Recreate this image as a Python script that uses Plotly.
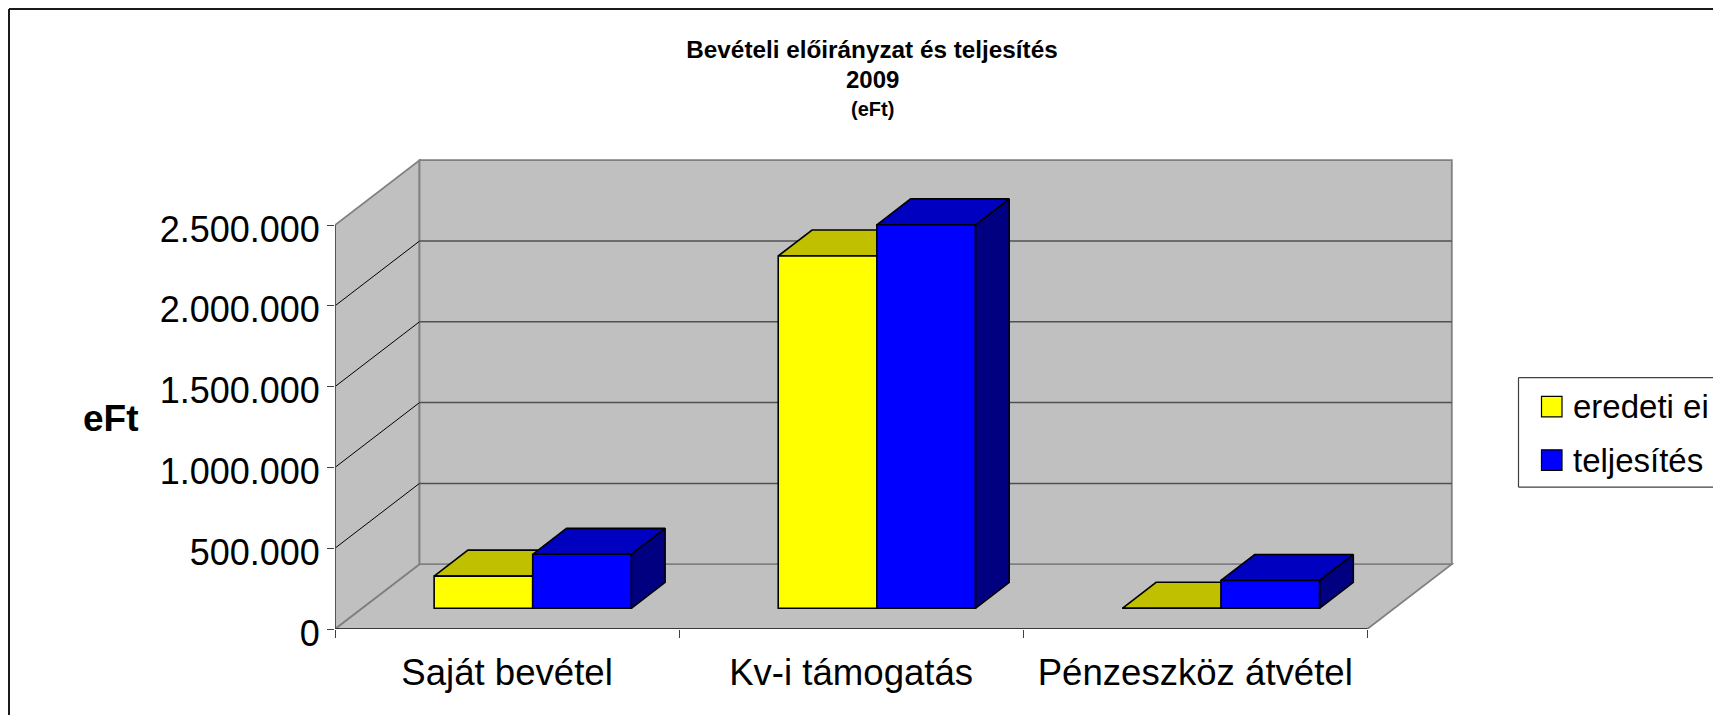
import plotly.graph_objects as go

# ---- data ----
categories = ["Saját bevétel", "Kv-i támogatás", "Pénzeszköz átvétel"]
series_names = ["eredeti ei", "teljesítés"]
eredeti_ei = [199000, 2180000, 0]
teljesites = [334000, 2373000, 172000]
y_ticks = [0, 500000, 1000000, 1500000, 2000000, 2500000]
y_tick_labels = ["0", "500.000", "1.000.000", "1.500.000", "2.000.000", "2.500.000"]
title_lines = ["Bevételi előirányzat és teljesítés", "2009", "(eFt)"]
axis_title = "eFt"

# ---- styling / projection ----
W, H = 1713, 715
FONT = "Liberation Sans, Arial, sans-serif"
PL, PR, PT, PB = 335.0, 1462.0, 150.0, 628.8          # plot area in px
PX_PER_CAT = 344.1
PX_PER_UNIT = 403.8 / 2500000
DEPTH_X = 84.5 / PX_PER_CAT                            # oblique depth in x units
DEPTH_Y = 64.8 / PX_PER_UNIT                           # oblique depth in y units
BAR_FRONT, BAR_BACK = 0.32, 0.72
BAR_W = 0.2865
BAR_SHIFT = -0.004
FACE = ["#FFFF00", "#0000FF"]
TOP = ["#C0C000", "#0000C0"]
SIDE = ["#808000", "#000080"]
WALL = "#C0C0C0"
EDGE = "#808080"
x_range = [0, (PR - PL) / PX_PER_CAT]
y_range = [0, (PB - PT) / PX_PER_UNIT]


def proj(x, v, d):
    return x + d * DEPTH_X, v + d * DEPTH_Y


def px(p):
    return (p - PL) / (PR - PL)


def py(p):
    return (PB - p) / (PB - PT)


def poly(points):
    return "M" + " L".join(f"{a},{b}" for a, b in points) + " Z"


n = len(categories)
top_val = y_ticks[-1]
shapes = []
# floor, left wall and back wall
wall_polys = [
    [proj(0, 0, 0), proj(n, 0, 0), proj(n, 0, 1), proj(0, 0, 1)],
    [proj(0, 0, 0), proj(0, top_val, 0), proj(0, top_val, 1), proj(0, 0, 1)],
    [proj(0, 0, 1), proj(n, 0, 1), proj(n, top_val, 1), proj(0, top_val, 1)],
]
for pts in wall_polys:
    shapes.append(dict(type="path", path=poly(pts), xref="x", yref="y", layer="below",
                       fillcolor=WALL, line=dict(color=EDGE, width=1.8)))
# gridlines
for t in y_ticks[1:-1]:
    x0, y0 = proj(0, t, 0)
    x1, y1 = proj(0, t, 1)
    x2, y2 = proj(n, t, 1)
    shapes.append(dict(type="line", xref="x", yref="y", layer="below", x0=x0, y0=y0, x1=x1, y1=y1,
                       line=dict(color="#000000", width=1)))
    shapes.append(dict(type="line", xref="x", yref="y", layer="below", x0=x1, y0=y1, x1=x2, y1=y2,
                       line=dict(color="#505050", width=1.5)))

# outer chart frame (runs off the right and bottom of the picture)
shapes.append(dict(type="line", xref="paper", yref="paper", x0=px(9), x1=px(W + 5), y0=py(9), y1=py(9),
                   line=dict(color="#1a1a1a", width=2)))
shapes.append(dict(type="line", xref="paper", yref="paper", x0=px(9), x1=px(9), y0=py(9), y1=py(H + 5),
                   line=dict(color="#1a1a1a", width=2)))
# legend box, open on the right where the picture cuts it
LX, LT, LB = 1518.5, 377.5, 487.0
for a, b, c, d in [(LX, LT, W + 5, LT), (LX, LB, W + 5, LB), (LX, LT, LX, LB)]:
    shapes.append(dict(type="line", xref="paper", yref="paper", x0=px(a), x1=px(c), y0=py(b), y1=py(d),
                       line=dict(color="#404040", width=1.2)))
legend_rows = [406.5, 460.0]
for yc, col in zip(legend_rows, FACE):
    shapes.append(dict(type="rect", xref="paper", yref="paper", x0=px(1541.5), x1=px(1562), y0=py(yc - 10.3),
                       y1=py(yc + 10.3), fillcolor=col, line=dict(color="#000000", width=1.2)))

fig = go.Figure()

# top and side faces on the primary axes (behind the front faces)
values = [eredeti_ei, teljesites]
for s, vals in enumerate(values):
    for i, v in enumerate(vals):
        left = i + 0.5 + BAR_SHIFT + (s - 1) * BAR_W
        right = left + BAR_W
        top = [proj(left, v, BAR_FRONT), proj(right, v, BAR_FRONT), proj(right, v, BAR_BACK), proj(left, v, BAR_BACK)]
        side = [proj(right, 0, BAR_FRONT), proj(right, v, BAR_FRONT), proj(right, v, BAR_BACK), proj(right, 0, BAR_BACK)]
        for pts, col in [(side, SIDE[s]), (top, TOP[s])]:
            xs = [p[0] for p in pts] + [pts[0][0]]
            ys = [p[1] for p in pts] + [pts[0][1]]
            fig.add_trace(go.Scatter(x=xs, y=ys, mode="lines", fill="toself", fillcolor=col,
                                     line=dict(color="#000000", width=1.6), showlegend=False, hoverinfo="skip"))

# axis lines that stop at the end of the wall / floor
x_a, y_a = zip(proj(0, 0, 0), proj(0, top_val, 0))
fig.add_trace(go.Scatter(x=x_a, y=y_a, mode="lines", line=dict(color="#505050", width=1.8), cliponaxis=False,
                         showlegend=False, hoverinfo="skip"))
x_b, y_b = zip(proj(0, 0, 0), proj(n, 0, 0))
fig.add_trace(go.Scatter(x=x_b, y=y_b, mode="lines", line=dict(color="#202020", width=1.5), cliponaxis=False,
                         showlegend=False, hoverinfo="skip"))

# front faces as real bars on an overlaying axis pair, so they sit above the faces behind them
base_x, base_y = proj(0, 0, BAR_FRONT)
for s, vals in enumerate(values):
    fig.add_trace(go.Bar(x=[i + 0.5 + BAR_SHIFT + base_x + (s - 0.5) * BAR_W for i in range(n)],
                         y=vals, base=base_y, width=BAR_W, name=series_names[s], xaxis="x2", yaxis="y2",
                         marker=dict(color=FACE[s], line=dict(color="#000000", width=1.6)), showlegend=False))

annotations = [
    dict(text=f"<b>{title_lines[1]}</b>", xref="paper", yref="paper", x=px(872), y=py(80), xanchor="center",
         yanchor="middle", showarrow=False, font=dict(family=FONT, size=24, color="#000000")),
    dict(text=f"<b>{title_lines[2]}</b>", xref="paper", yref="paper", x=px(872), y=py(109), xanchor="center",
         yanchor="middle", showarrow=False, font=dict(family=FONT, size=20, color="#000000")),
    dict(text=f"<b>{axis_title}</b>", xref="paper", yref="paper", x=px(111), y=py(418.5), xanchor="center",
         yanchor="middle", showarrow=False, font=dict(family=FONT, size=37, color="#000000")),
]
for yc, name in zip(legend_rows, series_names):
    annotations.append(dict(text=name, xref="paper", yref="paper", x=px(1571), y=py(yc), xanchor="left",
                            yanchor="middle", showarrow=False, font=dict(family=FONT, size=33, color="#000000")))

fig.update_layout(
    width=W, height=H, autosize=False,
    margin=dict(l=PL, r=W - PR, t=PT, b=H - PB, pad=0),
    paper_bgcolor="#FFFFFF", plot_bgcolor="#FFFFFF",
    showlegend=False, barmode="overlay",
    title=dict(text=f"<b>{title_lines[0]}</b>", x=px(872), xref="paper", xanchor="center",
               y=1 - 49 / H, yref="container", yanchor="middle", font=dict(family=FONT, size=24.3, color="#000000")),
    font=dict(family=FONT, color="#000000"),
    shapes=shapes, annotations=annotations,
    xaxis=dict(range=x_range, tickmode="array", tickvals=[i + 0.5 for i in range(n)], ticktext=categories,
               ticks="outside", ticklen=11, tickcolor="rgba(0,0,0,0)", tickfont=dict(family=FONT, size=36.6, color="#000000"),
               showgrid=False, zeroline=False, showline=False,
               minor=dict(tickmode="array", tickvals=list(range(n + 1)), ticks="outside", ticklen=8,
                          tickcolor="#404040", tickwidth=1, showgrid=False)),
    yaxis=dict(range=y_range, tickmode="array", tickvals=y_ticks, ticktext=y_tick_labels, ticks="outside",
               ticklen=7, tickcolor="#404040", tickwidth=1, tickfont=dict(family=FONT, size=36, color="#000000"),
               ticklabelshift=4, showgrid=False, zeroline=False, showline=False),
    xaxis2=dict(range=x_range, overlaying="x", visible=False),
    yaxis2=dict(range=y_range, overlaying="y", visible=False),
)

fig.write_html("out.html", config={"displayModeBar": False},
               post_script="document.body.style.margin='0';document.body.style.overflow='hidden';")
